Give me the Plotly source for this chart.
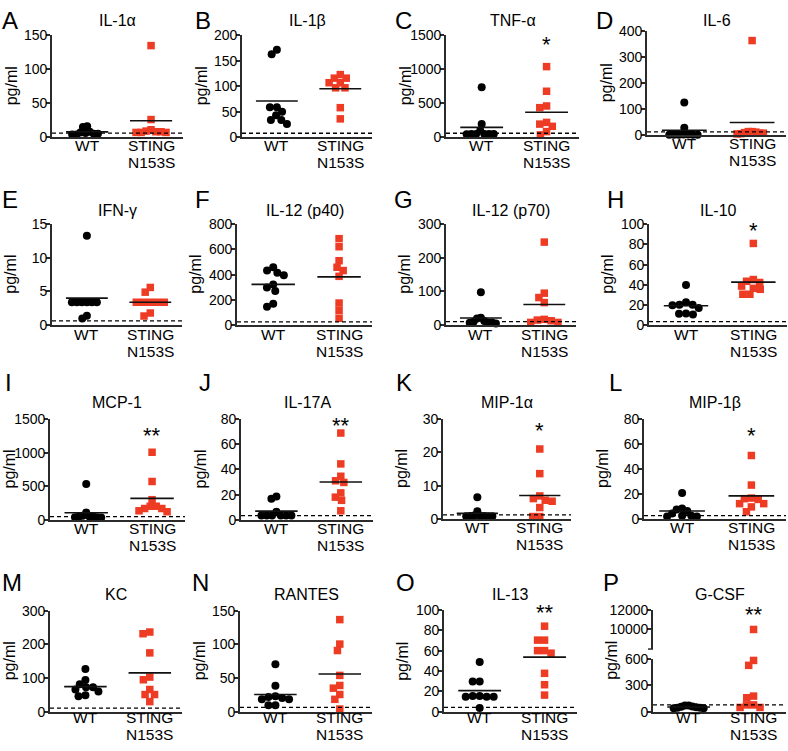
import numpy as np
import plotly.graph_objects as go

W, H = 788, 751

# ---- data (pg/ml) ----
cytokines = ["IL-1α", "IL-1β", "TNF-α", "IL-6", "IFN-γ", "IL-12 (p40)", "IL-12 (p70)", "IL-10",
             "MCP-1", "IL-17A", "MIP-1α", "MIP-1β", "KC", "RANTES", "IL-13", "G-CSF"]
letters = list("ABCDEFGHIJKLMNOP")

il1a_wt = [16, 15, 8, 7, 6, 5, 5, 4, 4]
il1a_sting = [135, 26, 11, 9, 8, 7, 7, 7, 8]
il1b_wt = [163, 172, 59, 50, 59, 34, 43, 26, 34]
il1b_sting = [107, 116, 116, 123, 107, 97, 97, 58, 36]
tnfa_wt = [193, 735, 47, 47, 47, 47, 47, 45, 97]
tnfa_sting = [1040, 677, 435, 460, 160, 218, 193, 82, 34]
il6_wt = [29, 126, 2, 2, 2, 3, 2, 2, 3]
il6_sting = [8, 12, 10, 14, 365, 14, 8, 6, 5]
ifng_wt = [13.3, 3.4, 3.4, 3.4, 3.4, 3.4, 3.4, 1.0, 1.4]
ifng_sting = [5.6, 4.9, 3.4, 3.4, 3.4, 3.4, 3.4, 1.8, 1.35]
il12p40_wt = [433, 395, 415, 459, 299, 271, 323, 145, 170]
il12p40_sting = [622, 686, 459, 511, 433, 387, 175, 116, 54]
il12p70_wt = [98, 12, 20, 5, 22, 8, 8, 10, 7]
il12p70_sting = [247, 82, 95, 67, 17, 13, 8, 8, 15]
il10_wt = [19.7, 20.3, 20.3, 22.6, 17, 11.3, 10.6, 11.6, 39.7]
il10_sting = [81, 38.7, 43.5, 42.3, 45.2, 36.5, 35.5, 30.6, 30.6]
mcp1_wt = [45, 60, 110, 50, 532, 40, 45, 35, 40]
mcp1_sting = [1006, 571, 300, 203, 169, 121, 135, 169, 203]
il17a_wt = [18.6, 16.8, 6.5, 3.4, 3.4, 3.4, 3.4, 3.4, 3.4]
il17a_sting = [68.9, 44.4, 34.6, 29.7, 31, 18, 21.4, 15.5, 7.2]
mip1a_wt = [0.8, 1.0, 0.9, 6.5, 2.3, 0.8, 0.9, 0.8, 0.9]
mip1a_sting = [21, 13.6, 6.9, 5.6, 5.3, 6.1, 3.4, 0.7, 0.7]
mip1b_wt = [20.8, 4.4, 7.6, 8.3, 6.3, 2.6, 2.6, 2.0, 2.0]
mip1b_sting = [50.8, 27.1, 16.7, 12.2, 15.6, 12.2, 16.2, 9.6, 5.7]
kc_wt = [127, 94, 73, 73, 82, 66, 46, 49, 60]
kc_sting = [232, 237, 175, 95, 103, 66, 51, 51, 30]
rantes_wt = [70.6, 38.7, 18.4, 18.4, 20.4, 21.8, 9.7, 9.7, 23]
rantes_sting = [137, 100.6, 91, 54, 35, 39, 25.6, 18.4, 3.9]
il13_wt = [48.9, 29.7, 29.7, 15.3, 14.7, 14.7, 14.7, 15.3, 3.5]
il13_sting = [84, 70.3, 70.3, 60, 60, 57.5, 37.7, 26.5, 16.3]
gcsf_wt = [70, 60, 50, 45, 40, 40, 45, 55, 70]
gcsf_sting = [10000, 582, 526, 158, 177, 77, 48, 48, 77]

wt_sets = [il1a_wt, il1b_wt, tnfa_wt, il6_wt, ifng_wt, il12p40_wt, il12p70_wt, il10_wt,
           mcp1_wt, il17a_wt, mip1a_wt, mip1b_wt, kc_wt, rantes_wt, il13_wt, gcsf_wt]
sting_sets = [il1a_sting, il1b_sting, tnfa_sting, il6_sting, ifng_sting, il12p40_sting,
              il12p70_sting, il10_sting, mcp1_sting, il17a_sting, mip1a_sting, mip1b_sting,
              kc_sting, rantes_sting, il13_sting, gcsf_sting]

y_max = [150, 200, 1500, 400, 15, 800, 300, 100, 1500, 80, 30, 80, 300, 150, 100, 600]
y_step = [50, 50, 500, 100, 5, 200, 100, 20, 500, 20, 10, 20, 100, 50, 20, 300]
detect_limit = [6, 7.7, 58, 12.6, 0.63, 26, 10.6, 3.5, 48, 3.4, 1.2, 2.6, 10.6, 6.3, 4.2, 77]
stars = ["", "", "*", "", "", "", "", "*", "**", "**", "*", "*", "", "", "**", "**"]
gcsf_upper = [8000, 12000]   # upper segment of the broken G-CSF axis
gcsf_upper_ticks = [10000, 12000]

# ---- layout geometry in pixels: (axis x, axis end x, top y, zero y) ----
boxes = [
    (52, 183, 28, 132), (242, 372, 28, 132), (446, 579, 28, 132), (647, 786, 24, 130),
    (52, 182, 221, 324), (237, 372, 221, 324), (446, 576, 221, 324), (649, 787, 221, 324),
    (50, 185, 420, 523), (241, 373, 420, 523), (443, 571, 420, 522), (644, 786, 420, 522),
    (50, 182, 616, 719), (240, 372, 616, 719), (444, 577, 615, 719), (653, 786, 665, 719),
]
p_upper = (615, 655)
title_y = [13, 207, 403, 599]
letter_y = [12.5, 196, 383, 587]
label_split = [17.5, 18, 17.5, 15]   # px below the x axis where "STING" meets "N153S"
letter_x = [0, 193, 393, 594, 0, 193, 392, 605, 3, 197, 394, 607, 0, 190, 394, 601]
star_y = [0, 0, 32, 0, 0, 0, 0, 222, 432, 422, 427, 432, 0, 0, 613, 615]

X_RANGE = [-0.55, 1.5]
FONT = "Liberation Sans, Arial, sans-serif"
RED = "#EE3B24"
AX = "#2b2b2b"
TICK_SIZE = 14


def px(v):
    return 1 - v / H


def swarm(ypix, d=7.0, max_half=15.0):
    """Simple beeswarm: spread overlapping points sideways (pixel units)."""
    order = np.argsort(-np.asarray(ypix))
    placed, offs = [], np.zeros(len(ypix))
    for i in order:
        y = ypix[i]
        cands = [0.0]
        for cx, cy in placed:
            dy = abs(cy - y)
            if dy < d:
                dx = np.sqrt(d * d - dy * dy)
                cands += [cx - dx, cx + dx]
        cands.sort(key=lambda c: (abs(c), c))
        for c in cands:
            if all((c - cx) ** 2 + (y - cy) ** 2 >= d * d - 1e-6 for cx, cy in placed):
                break
        offs[i] = c
        placed.append((c, y))
    half = np.abs(offs).max()
    if half > max_half:
        offs *= max_half / half
    return offs


def yaxis_style(**kw):
    base = dict(ticks="outside", ticklen=4, tickwidth=1.5, tickcolor=AX,
                tickfont=dict(size=TICK_SIZE), ticklabelstandoff=-4,
                showgrid=False, zeroline=False, showline=True, linecolor=AX, linewidth=1.7)
    base.update(kw)
    return base


fig = go.Figure()
annotations, shapes = [], []
layout = dict(width=W, height=H, margin=dict(l=0, r=0, t=0, b=0),
              paper_bgcolor="white", plot_bgcolor="white", showlegend=False,
              font=dict(family=FONT, color="black"))

for k in range(16):
    n = k + 1
    sx = "" if n == 1 else str(n)
    x0, x1, yt, yb = boxes[k]
    is_p = (k == 15)
    row = k // 4
    ppu_x = (x1 - x0) / (X_RANGE[1] - X_RANGE[0])
    ppu_y = (yb - yt) / y_max[k]

    layout["xaxis" + sx] = dict(domain=[x0 / W, x1 / W], anchor="y" + sx, range=X_RANGE,
                               showticklabels=False, ticks="", showgrid=False, zeroline=False,
                               showline=True, linecolor=AX, linewidth=1.7, fixedrange=True)
    layout["yaxis" + sx] = yaxis_style(domain=[px(yb), px(yt)], anchor="x" + sx,
                                       range=[0, y_max[k]],
                                       tickvals=list(np.arange(0, y_max[k] + 1e-9, y_step[k])))

    for g, vals in enumerate([wt_sets[k], sting_sets[k]]):
        vals = np.asarray(vals, dtype=float)
        if is_p:
            ypix = np.where(vals <= y_max[k], vals * ppu_y,
                            (yb - p_upper[1]) + (vals - gcsf_upper[0]) * (p_upper[1] - p_upper[0]) / (gcsf_upper[1] - gcsf_upper[0]))
        else:
            ypix = vals * ppu_y
        xs = g + swarm(ypix) / ppu_x
        marker = dict(symbol="circle", size=8, color="black") if g == 0 else \
            dict(symbol="square", size=7.5, color=RED)
        low = vals <= y_max[k]
        fig.add_trace(go.Scatter(x=xs[low], y=vals[low], mode="markers", marker=marker,
                                 xaxis="x" + sx, yaxis="y" + sx, cliponaxis=False,
                                 hoverinfo="y"))
        if is_p and (~low).any():
            fig.add_trace(go.Scatter(x=xs[~low], y=vals[~low], mode="markers", marker=marker,
                                     xaxis="x" + sx, yaxis="y17", cliponaxis=False,
                                     hoverinfo="y"))
        m = vals.mean()
        if m <= y_max[k]:
            fig.add_trace(go.Scatter(x=[g - 0.33, g + 0.33], y=[m, m], mode="lines",
                                     line=dict(color="#111", width=1.6),
                                     xaxis="x" + sx, yaxis="y" + sx, hoverinfo="skip"))

    # detection limit
    shapes.append(dict(type="line", xref="x" + sx + " domain", x0=0, x1=1,
                       yref="y" + sx, y0=detect_limit[k], y1=detect_limit[k],
                       line=dict(color="black", width=1.3, dash="4px,3px")))

    # texts
    annotations.append(dict(text=cytokines[k], x=(x0 + x1) / 2 / W, y=px(title_y[row]),
                            xref="paper", yref="paper", showarrow=False,
                            font=dict(size=16), xanchor="center", yanchor="middle"))
    annotations.append(dict(text=letters[k], x=letter_x[k] / W, y=px(letter_y[row]),
                            xref="paper", yref="paper", showarrow=False,
                            font=dict(size=24), xanchor="left", yanchor="middle"))
    ytop_all = p_upper[0] if is_p else yt
    annotations.append(dict(text="pg/ml", x=(x0 - 41) / W, y=px((ytop_all + yb) / 2),
                            xref="paper", yref="paper", showarrow=False, textangle=-90,
                            font=dict(size=16), xanchor="center", yanchor="middle"))
    split = px(yb + label_split[row])
    for gx, t, anchor in [(0, "WT", "bottom"), (1, "STING", "bottom"), (1, "N153S", "top")]:
        annotations.append(dict(text=t, x=gx, xref="x" + sx, y=split, yref="paper",
                                showarrow=False, font=dict(size=15.5), borderpad=0,
                                borderwidth=0, xanchor="center", yanchor=anchor))
    if stars[k]:
        annotations.append(dict(text=stars[k], x=1, xref="x" + sx, y=px(star_y[k] + 5),
                                yref="paper", showarrow=False, font=dict(size=22),
                                xanchor="center", yanchor="middle"))

# upper segment of the broken G-CSF axis
x0, x1, _, _ = boxes[15]
layout["yaxis17"] = yaxis_style(domain=[px(p_upper[1]), px(p_upper[0])], anchor="x16",
                                range=gcsf_upper, tickvals=gcsf_upper_ticks,
                                ticktext=[str(v) for v in gcsf_upper_ticks])
shapes.append(dict(type="line", xref="paper", yref="paper", x0=(x0 - 5) / W, x1=x0 / W,
                   y0=px(p_upper[1]), y1=px(p_upper[1]), line=dict(color=AX, width=1.5)))

layout["annotations"] = annotations
layout["shapes"] = shapes
fig.update_layout(**layout)

# drop the default page margin so the figure sits at the window's corner
fig.write_html("out.html", config={"displayModeBar": False},
               post_script="document.body.style.margin='0';")
